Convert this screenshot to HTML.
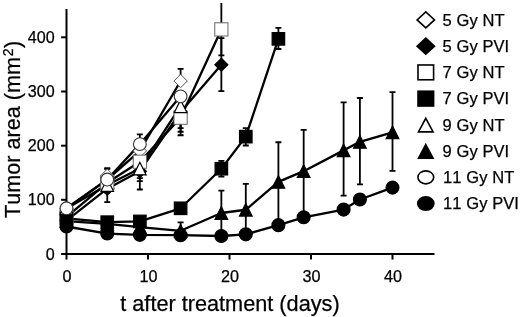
<!DOCTYPE html>
<html><head><meta charset="utf-8"><style>
html,body{margin:0;padding:0;background:#fff;overflow:hidden;}
svg{display:block;will-change:transform;font-family:"Liberation Sans",sans-serif;fill:#000;font-kerning:none;}
text{stroke:#000;stroke-width:0.25px;}
</style></head><body>
<svg width="520" height="317" viewBox="0 0 520 317">
<rect width="520" height="317" fill="#fff"/>
<path d="M66.5 9V254.0H434.5" stroke="#000" stroke-width="2" fill="none"/>
<path d="M61.1 254.0h5.4" stroke="#000" stroke-width="2"/>
<text x="54.7" y="259.5" text-anchor="end" font-size="16.1">0</text>
<path d="M61.1 199.8h5.4" stroke="#000" stroke-width="2"/>
<text x="54.7" y="205.3" text-anchor="end" font-size="16.1">100</text>
<path d="M61.1 145.7h5.4" stroke="#000" stroke-width="2"/>
<text x="54.7" y="151.2" text-anchor="end" font-size="16.1">200</text>
<path d="M61.1 91.5h5.4" stroke="#000" stroke-width="2"/>
<text x="54.7" y="97.0" text-anchor="end" font-size="16.1">300</text>
<path d="M61.1 37.3h5.4" stroke="#000" stroke-width="2"/>
<text x="54.7" y="42.8" text-anchor="end" font-size="16.1">400</text>
<path d="M66.5 254.0v5.6" stroke="#000" stroke-width="2"/>
<text x="67.0" y="282.3" text-anchor="middle" font-size="16.2">0</text>
<path d="M148.0 254.0v5.6" stroke="#000" stroke-width="2"/>
<text x="148.5" y="282.3" text-anchor="middle" font-size="16.2">10</text>
<path d="M229.5 254.0v5.6" stroke="#000" stroke-width="2"/>
<text x="230.0" y="282.3" text-anchor="middle" font-size="16.2">20</text>
<path d="M311.0 254.0v5.6" stroke="#000" stroke-width="2"/>
<text x="311.5" y="282.3" text-anchor="middle" font-size="16.2">30</text>
<path d="M392.5 254.0v5.6" stroke="#000" stroke-width="2"/>
<text x="393.0" y="282.3" text-anchor="middle" font-size="16.2">40</text>
<text x="229.95" y="310.5" text-anchor="middle" font-size="21.7">t after treatment (days)</text>
<text transform="translate(19.7,217.9) rotate(-90)" text-anchor="start" font-size="21.6">Tumor area (mm<tspan dx="0.9" dy="-6.4" font-size="14">2</tspan><tspan dx="0.5" dy="6.4">)</tspan></text>
<path d="M180.60 81.24V68.82M177.60 81.24h6M177.60 68.82h6" stroke="#000" stroke-width="1.8" fill="none"/>
<path d="M107.25 175.74V168.23M104.25 175.74h6M104.25 168.23h6" stroke="#000" stroke-width="1.8" fill="none"/>
<path d="M221.35 91.12V38.04M218.35 91.12h6M218.35 38.04h6" stroke="#000" stroke-width="1.8" fill="none"/>
<path d="M107.25 202.20V186.00M104.25 202.20h6M104.25 186.00h6" stroke="#000" stroke-width="1.8" fill="none"/>
<path d="M139.85 189.51V170.88M136.85 189.51h6M136.85 170.88h6" stroke="#000" stroke-width="1.8" fill="none"/>
<path d="M221.35 55.32V2.94M218.35 55.32h6" stroke="#000" stroke-width="1.8" fill="none"/>
<path d="M180.60 135.24V117.96M177.60 135.24h6M177.60 117.96h6" stroke="#000" stroke-width="1.8" fill="none"/>
<path d="M139.85 178.17V161.70M136.85 178.17h6M136.85 161.70h6" stroke="#000" stroke-width="1.8" fill="none"/>
<path d="M278.40 49.00V27.78M275.40 49.00h6M275.40 27.78h6" stroke="#000" stroke-width="1.8" fill="none"/>
<path d="M245.80 145.50V128.22M242.80 145.50h6M242.80 128.22h6" stroke="#000" stroke-width="1.8" fill="none"/>
<path d="M221.35 176.55V160.89M218.35 176.55h6M218.35 160.89h6" stroke="#000" stroke-width="1.8" fill="none"/>
<path d="M107.25 192.48V183.84M104.25 192.48h6M104.25 183.84h6" stroke="#000" stroke-width="1.8" fill="none"/>
<path d="M139.85 181.14V168.72M136.85 181.14h6M136.85 168.72h6" stroke="#000" stroke-width="1.8" fill="none"/>
<path d="M180.60 131.73V106.62M177.60 131.73h6M177.60 106.62h6" stroke="#000" stroke-width="1.8" fill="none"/>
<path d="M180.60 230.82V222.40M177.60 230.82h6M177.60 222.40h6" stroke="#000" stroke-width="1.8" fill="none"/>
<path d="M221.35 231.90V190.59M218.35 231.90h6M218.35 190.59h6" stroke="#000" stroke-width="1.8" fill="none"/>
<path d="M245.80 231.90V183.84M242.80 231.90h6M242.80 183.84h6" stroke="#000" stroke-width="1.8" fill="none"/>
<path d="M278.40 221.10V142.26M275.40 221.10h6M275.40 142.26h6" stroke="#000" stroke-width="1.8" fill="none"/>
<path d="M303.67 215.70V129.84M300.67 215.70h6M300.67 129.84h6" stroke="#000" stroke-width="1.8" fill="none"/>
<path d="M343.60 195.72V102.30M340.60 195.72h6M340.60 102.30h6" stroke="#000" stroke-width="1.8" fill="none"/>
<path d="M359.90 184.38V97.98M356.90 184.38h6M356.90 97.98h6" stroke="#000" stroke-width="1.8" fill="none"/>
<path d="M392.50 170.88V92.04M389.50 170.88h6M389.50 92.04h6" stroke="#000" stroke-width="1.8" fill="none"/>
<path d="M107.25 179.52V168.88M104.25 179.52h6M104.25 168.88h6" stroke="#000" stroke-width="1.8" fill="none"/>
<path d="M139.85 143.88V134.43M136.85 143.88h6M136.85 134.43h6" stroke="#000" stroke-width="1.8" fill="none"/>
<path d="M180.60 128.22V96.36M177.60 128.22h6M177.60 96.36h6" stroke="#000" stroke-width="1.8" fill="none"/>
<path d="M66.50 208.68L107.25 179.52L139.85 150.90L180.60 81.02" stroke="#000" stroke-width="2.3" fill="none" stroke-linejoin="round"/>
<path d="M66.50 220.56L107.25 188.70L139.85 171.15L180.60 112.02L221.35 64.77" stroke="#000" stroke-width="2.3" fill="none" stroke-linejoin="round"/>
<path d="M66.50 216.78L107.25 182.76L139.85 161.70L180.60 117.69L221.35 29.40" stroke="#000" stroke-width="2.3" fill="none" stroke-linejoin="round"/>
<path d="M66.50 218.40L107.25 222.18L139.85 221.42L180.60 208.30L221.35 168.72L245.80 136.64L278.40 38.85" stroke="#000" stroke-width="2.3" fill="none" stroke-linejoin="round"/>
<path d="M66.50 208.41L107.25 185.03L139.85 168.56L180.60 106.24" stroke="#000" stroke-width="2.3" fill="none" stroke-linejoin="round"/>
<path d="M66.50 221.10L107.25 223.80L139.85 227.04L180.60 230.82L221.35 213.00L245.80 209.76L278.40 181.84L303.67 171.15L343.60 150.36L359.90 141.83L392.50 132.32" stroke="#000" stroke-width="2.3" fill="none" stroke-linejoin="round"/>
<path d="M66.50 208.30L107.25 179.57L139.85 144.15L180.60 96.36" stroke="#000" stroke-width="2.3" fill="none" stroke-linejoin="round"/>
<path d="M66.50 226.50L107.25 233.57L139.85 234.87L180.60 235.14L221.35 236.00L245.80 234.33L278.40 225.15L303.67 217.32L343.60 209.60L359.90 199.50L392.50 187.62" stroke="#000" stroke-width="2.3" fill="none" stroke-linejoin="round"/>
<path d="M66.50 201.98L73.20 208.68L66.50 215.38L59.80 208.68Z" fill="#fff" stroke="#555" stroke-width="1"/>
<path d="M107.25 169.04L113.95 175.74L107.25 182.44L100.55 175.74Z" fill="#fff" stroke="#555" stroke-width="1"/>
<path d="M139.85 144.20L146.55 150.90L139.85 157.60L133.15 150.90Z" fill="#fff" stroke="#555" stroke-width="1"/>
<path d="M180.60 74.32L187.30 81.02L180.60 87.72L173.90 81.02Z" fill="#fff" stroke="#555" stroke-width="1"/>
<path d="M66.50 214.06L73.00 220.56L66.50 227.06L60.00 220.56Z" fill="#000" stroke="#000" stroke-width="1.2"/>
<path d="M107.25 182.20L113.75 188.70L107.25 195.20L100.75 188.70Z" fill="#000" stroke="#000" stroke-width="1.2"/>
<path d="M139.85 164.65L146.35 171.15L139.85 177.65L133.35 171.15Z" fill="#000" stroke="#000" stroke-width="1.2"/>
<path d="M180.60 105.52L187.10 112.02L180.60 118.52L174.10 112.02Z" fill="#000" stroke="#000" stroke-width="1.2"/>
<path d="M221.35 58.27L227.85 64.77L221.35 71.27L214.85 64.77Z" fill="#000" stroke="#000" stroke-width="1.2"/>
<rect x="59.90" y="210.18" width="13.2" height="13.2" fill="#fff" stroke="#666" stroke-width="1"/>
<rect x="100.65" y="176.16" width="13.2" height="13.2" fill="#fff" stroke="#666" stroke-width="1"/>
<rect x="133.25" y="155.10" width="13.2" height="13.2" fill="#fff" stroke="#666" stroke-width="1"/>
<rect x="174.00" y="111.09" width="13.2" height="13.2" fill="#fff" stroke="#666" stroke-width="1"/>
<rect x="214.75" y="22.80" width="13.2" height="13.2" fill="#fff" stroke="#666" stroke-width="1"/>
<rect x="60.25" y="212.15" width="12.5" height="12.5" fill="#000" stroke="#000" stroke-width="1.2"/>
<rect x="101.00" y="215.93" width="12.5" height="12.5" fill="#000" stroke="#000" stroke-width="1.2"/>
<rect x="133.60" y="215.17" width="12.5" height="12.5" fill="#000" stroke="#000" stroke-width="1.2"/>
<rect x="174.35" y="202.05" width="12.5" height="12.5" fill="#000" stroke="#000" stroke-width="1.2"/>
<rect x="215.10" y="162.47" width="12.5" height="12.5" fill="#000" stroke="#000" stroke-width="1.2"/>
<rect x="239.55" y="130.39" width="12.5" height="12.5" fill="#000" stroke="#000" stroke-width="1.2"/>
<rect x="272.15" y="32.60" width="12.5" height="12.5" fill="#000" stroke="#000" stroke-width="1.2"/>
<path d="M66.50 202.11L72.80 214.71L60.20 214.71Z" fill="#fff" stroke="#000" stroke-width="1.2"/>
<path d="M107.25 178.73L113.55 191.33L100.95 191.33Z" fill="#fff" stroke="#000" stroke-width="1.2"/>
<path d="M139.85 162.26L146.15 174.86L133.55 174.86Z" fill="#fff" stroke="#000" stroke-width="1.2"/>
<path d="M180.60 99.94L186.90 112.54L174.30 112.54Z" fill="#fff" stroke="#000" stroke-width="1.2"/>
<path d="M66.50 214.80L72.80 227.40L60.20 227.40Z" fill="#000" stroke="#000" stroke-width="1.2"/>
<path d="M107.25 217.50L113.55 230.10L100.95 230.10Z" fill="#000" stroke="#000" stroke-width="1.2"/>
<path d="M139.85 220.74L146.15 233.34L133.55 233.34Z" fill="#000" stroke="#000" stroke-width="1.2"/>
<path d="M180.60 224.52L186.90 237.12L174.30 237.12Z" fill="#000" stroke="#000" stroke-width="1.2"/>
<path d="M221.35 206.70L227.65 219.30L215.05 219.30Z" fill="#000" stroke="#000" stroke-width="1.2"/>
<path d="M245.80 203.46L252.10 216.06L239.50 216.06Z" fill="#000" stroke="#000" stroke-width="1.2"/>
<path d="M278.40 175.54L284.70 188.14L272.10 188.14Z" fill="#000" stroke="#000" stroke-width="1.2"/>
<path d="M303.67 164.85L309.97 177.45L297.37 177.45Z" fill="#000" stroke="#000" stroke-width="1.2"/>
<path d="M343.60 144.06L349.90 156.66L337.30 156.66Z" fill="#000" stroke="#000" stroke-width="1.2"/>
<path d="M359.90 135.53L366.20 148.13L353.60 148.13Z" fill="#000" stroke="#000" stroke-width="1.2"/>
<path d="M392.50 126.02L398.80 138.62L386.20 138.62Z" fill="#000" stroke="#000" stroke-width="1.2"/>
<circle cx="66.50" cy="208.30" r="6.4" fill="#fff" stroke="#333" stroke-width="1.1"/>
<circle cx="107.25" cy="179.57" r="6.4" fill="#fff" stroke="#333" stroke-width="1.1"/>
<circle cx="139.85" cy="144.15" r="6.4" fill="#fff" stroke="#333" stroke-width="1.1"/>
<circle cx="180.60" cy="96.36" r="6.4" fill="#fff" stroke="#333" stroke-width="1.1"/>
<circle cx="66.50" cy="226.50" r="6.45" fill="#000" stroke="#000" stroke-width="1.2"/>
<circle cx="107.25" cy="233.57" r="6.45" fill="#000" stroke="#000" stroke-width="1.2"/>
<circle cx="139.85" cy="234.87" r="6.45" fill="#000" stroke="#000" stroke-width="1.2"/>
<circle cx="180.60" cy="235.14" r="6.45" fill="#000" stroke="#000" stroke-width="1.2"/>
<circle cx="221.35" cy="236.00" r="6.45" fill="#000" stroke="#000" stroke-width="1.2"/>
<circle cx="245.80" cy="234.33" r="6.45" fill="#000" stroke="#000" stroke-width="1.2"/>
<circle cx="278.40" cy="225.15" r="6.45" fill="#000" stroke="#000" stroke-width="1.2"/>
<circle cx="303.67" cy="217.32" r="6.45" fill="#000" stroke="#000" stroke-width="1.2"/>
<circle cx="343.60" cy="209.60" r="6.45" fill="#000" stroke="#000" stroke-width="1.2"/>
<circle cx="359.90" cy="199.50" r="6.45" fill="#000" stroke="#000" stroke-width="1.2"/>
<circle cx="392.50" cy="187.62" r="6.45" fill="#000" stroke="#000" stroke-width="1.2"/>
<path d="M425.80 11.90L434.50 19.90L425.80 27.90L417.10 19.90Z" fill="#fff" stroke="#000" stroke-width="1.6"/>
<text letter-spacing="0.08" x="442.6" y="25.60" font-size="16.5">5 Gy NT</text>
<path d="M425.80 38.14L434.50 46.14L425.80 54.14L417.10 46.14Z" fill="#000" stroke="#000" stroke-width="1.6"/>
<text letter-spacing="0.08" x="442.6" y="51.84" font-size="16.5">5 Gy PVI</text>
<rect x="418.00" y="64.98" width="15.6" height="14.8" fill="#fff" stroke="#000" stroke-width="1.6"/>
<text letter-spacing="0.08" x="442.6" y="78.08" font-size="16.5">7 Gy NT</text>
<rect x="418.00" y="91.22" width="15.6" height="14.8" fill="#000" stroke="#000" stroke-width="1.6"/>
<text letter-spacing="0.08" x="442.6" y="104.32" font-size="16.5">7 Gy PVI</text>
<path d="M425.80 118.31L433.10 131.91L418.50 131.91Z" fill="#fff" stroke="#000" stroke-width="1.6"/>
<text letter-spacing="0.08" x="442.6" y="130.56" font-size="16.5">9 Gy NT</text>
<path d="M425.80 144.55L433.10 158.15L418.50 158.15Z" fill="#000" stroke="#000" stroke-width="1.6"/>
<text letter-spacing="0.08" x="442.6" y="156.80" font-size="16.5">9 Gy PVI</text>
<ellipse cx="425.80" cy="177.34" rx="7.9" ry="6.5" fill="#fff" stroke="#000" stroke-width="1.6"/>
<text letter-spacing="0.08" x="443.1" y="183.04" font-size="16.5">11 Gy NT</text>
<ellipse cx="425.80" cy="203.58" rx="8.1" ry="6.7" fill="#000" stroke="#000" stroke-width="1.6"/>
<text letter-spacing="0.08" x="443.1" y="209.28" font-size="16.5">11 Gy PVI</text>
</svg>
</body></html>
